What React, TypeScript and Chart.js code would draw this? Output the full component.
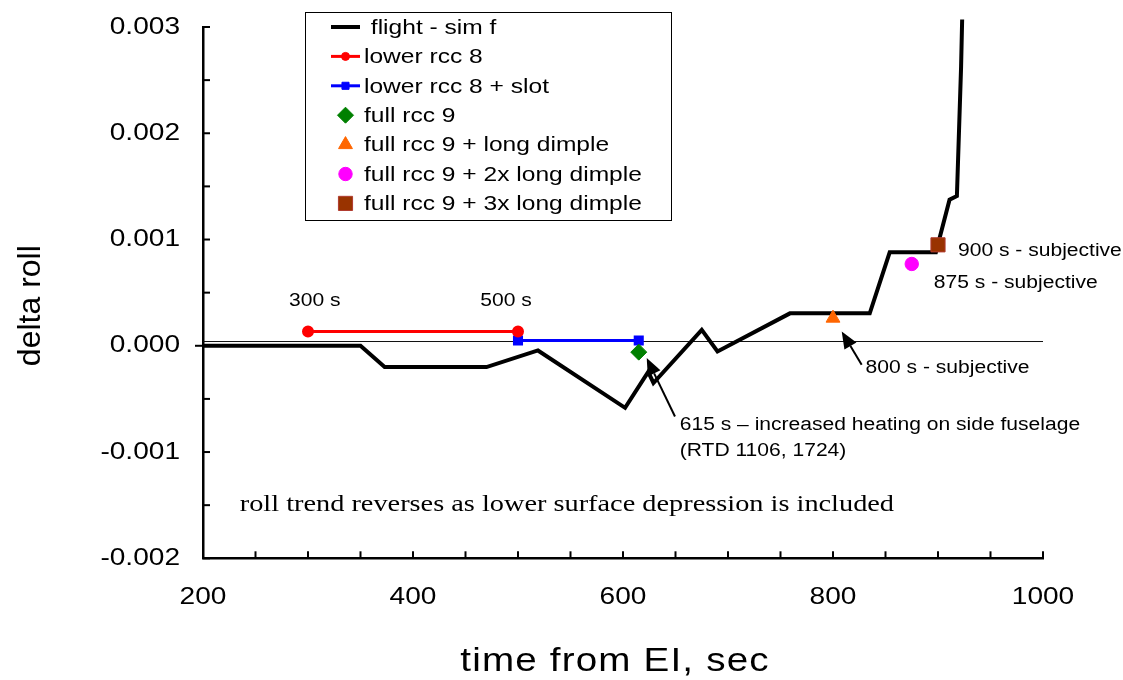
import React, { useEffect, useRef } from 'react';
import { Chart, registerables } from 'chart.js';

Chart.register(...registerables);

const SANS = "'Liberation Sans', Arial, Helvetica, sans-serif";
const SERIF = "'Liberation Serif', 'Times New Roman', serif";
const STRETCH = 1.17;

// axis ranges and tick steps
const xMin = 200;
const xMax = 1000;
const yMin = -0.002;
const yMax = 0.003;
const xTickStep = 50;
const xLabelStep = 200;
const yTickStep = 0.0005;
const yLabelStep = 0.001;
const xTitle = 'time from EI, sec';
const yTitle = 'delta roll';

// flight - sim f
const flightTime = [200, 350, 373, 470, 519, 602, 624, 629, 675, 690, 759, 835, 854, 898, 911, 918, 922, 923];
const flightRoll = [0, 0, -0.0002, -0.0002, -0.000044, -0.000584, -0.000245, -0.00035, 0.00015, -0.000054, 0.000305, 0.000305, 0.00088, 0.00088, 0.001375, 0.00141, 0.00263, 0.00307];

// lower rcc 8
const rcc8Time = [300, 500];
const rcc8Roll = [0.000135, 0.000135];

// lower rcc 8 + slot
const slotTime = [500, 615];
const slotRoll = [0.00005, 0.00005];

// full rcc 9 and dimple variants
const rcc9Time = [615];
const rcc9Roll = [-0.00006];
const dimple1Time = [800];
const dimple1Roll = [0.00026];
const dimple2Time = [875];
const dimple2Roll = [0.00077];
const dimple3Time = [900];
const dimple3Roll = [0.00095];

// thin reference line
const refTime = [200, 1000];
const refRoll = [0.00004, 0.00004];

// text notes (data coordinates, left aligned)
const noteTexts = [
  '300 s',
  '500 s',
  '615 s \u2013 increased heating on side fuselage',
  '(RTD 1106, 1724)',
  '800 s - subjective',
  '875 s - subjective',
  '900 s - subjective',
];
const noteTime = [282, 464, 654, 654, 831, 896, 919];
const noteRoll = [0.000424, 0.000424, -0.000744, -0.000989, -0.000207, 0.000593, 0.000895];

const serifNote = 'roll trend reverses as lower surface depression is included';
const serifNoteTime = 235;
const serifNoteRoll = -0.0015;

// arrows (tail -> tip)
const arrowTailTime = [649.5, 827.3];
const arrowTailRoll = [-0.000666, -0.000179];
const arrowTipTime = [622.6, 808.3];
const arrowTipRoll = [-0.000116, 0.000135];

const pts = (xs: number[], ys: number[]) => xs.map((x, i) => ({ x, y: ys[i] }));
const isMultiple = (v: number, step: number) => Math.abs(Math.round(v / step) * step - v) < step * 1e-6;

function stretchText(
  ctx: CanvasRenderingContext2D,
  text: string,
  x: number,
  y: number,
  font: string,
  align: CanvasTextAlign,
  sx = STRETCH,
  spacing = 0
) {
  ctx.save();
  ctx.font = font;
  (ctx as any).letterSpacing = `${spacing}px`;
  ctx.textBaseline = 'middle';
  ctx.textAlign = align;
  ctx.fillStyle = '#000';
  ctx.translate(x, y);
  ctx.scale(sx, 1);
  ctx.fillText(text, 0, 0);
  ctx.restore();
}

function drawMarker(ctx: CanvasRenderingContext2D, style: string, x: number, y: number, r: number, fill: string, stroke: string) {
  ctx.save();
  ctx.fillStyle = fill;
  ctx.strokeStyle = stroke;
  ctx.lineWidth = 1;
  ctx.beginPath();
  if (style === 'circle') {
    ctx.arc(x, y, r, 0, Math.PI * 2);
  } else if (style === 'rect') {
    const s = r * Math.SQRT1_2;
    ctx.rect(x - s, y - s, 2 * s, 2 * s);
  } else if (style === 'rectRot') {
    ctx.moveTo(x, y - r);
    ctx.lineTo(x + r, y);
    ctx.lineTo(x, y + r);
    ctx.lineTo(x - r, y);
    ctx.closePath();
  } else if (style === 'triangle') {
    const h = (r * Math.sqrt(3)) / 2;
    ctx.moveTo(x, y - r);
    ctx.lineTo(x + h, y + r / 2);
    ctx.lineTo(x - h, y + r / 2);
    ctx.closePath();
  }
  ctx.fill();
  ctx.stroke();
  ctx.restore();
}

function drawArrow(ctx: CanvasRenderingContext2D, x0: number, y0: number, x1: number, y1: number) {
  const ang = Math.atan2(y1 - y0, x1 - x0);
  const L = 17;
  const W = 7;
  const bx = x1 - L * Math.cos(ang);
  const by = y1 - L * Math.sin(ang);
  ctx.save();
  ctx.strokeStyle = '#000';
  ctx.fillStyle = '#000';
  ctx.lineWidth = 2;
  ctx.beginPath();
  ctx.moveTo(x0, y0);
  ctx.lineTo(bx, by);
  ctx.stroke();
  ctx.beginPath();
  ctx.moveTo(x1, y1);
  ctx.lineTo(bx + W * Math.sin(ang), by - W * Math.cos(ang));
  ctx.lineTo(bx - W * Math.sin(ang), by + W * Math.cos(ang));
  ctx.closePath();
  ctx.fill();
  ctx.restore();
}

const decorPlugin = {
  id: 'decor',
  afterDatasetsDraw(chart: any) {
    const ctx: CanvasRenderingContext2D = chart.ctx;
    const a = chart.chartArea;
    const xs = chart.scales.x;
    const ys = chart.scales.y;
    ctx.save();
    ctx.strokeStyle = '#000';
    ctx.lineWidth = 2;
    // inner tick marks + tick labels
    const tickFont = `24px ${SANS}`;
    xs.ticks.forEach((t: any) => {
      const px = xs.getPixelForValue(t.value);
      ctx.beginPath();
      ctx.moveTo(px, a.bottom);
      ctx.lineTo(px, a.bottom - 7);
      ctx.stroke();
      if (isMultiple(t.value, xLabelStep)) {
        stretchText(ctx, String(Math.round(t.value)), px, a.bottom + 39, tickFont, 'center');
      }
    });
    ys.ticks.forEach((t: any) => {
      const py = ys.getPixelForValue(t.value);
      ctx.beginPath();
      ctx.moveTo(a.left, py);
      ctx.lineTo(a.left + 7, py);
      ctx.stroke();
      if (isMultiple(t.value, yLabelStep)) {
        const r = Math.round(t.value / yLabelStep) * yLabelStep;
        const label = Math.abs(r) < 1e-12 ? '0.000' : r.toFixed(3);
        stretchText(ctx, label, a.left - 23, py, tickFont, 'right');
      }
    });
    const p0 = ys.getPixelForValue(0);
    ctx.beginPath();
    ctx.moveTo(a.left - 8, p0);
    ctx.lineTo(a.left, p0);
    ctx.stroke();

    // axis titles
    stretchText(ctx, xTitle, (a.left + a.right) / 2 - 8, a.bottom + 104, `33px ${SANS}`, 'center', STRETCH, 1);
    ctx.save();
    ctx.translate(a.left - 172, (a.top + a.bottom) / 2 + 13);
    ctx.rotate(-Math.PI / 2);
    stretchText(ctx, yTitle, 0, 0, `32px ${SANS}`, 'center', 1, 0);
    ctx.restore();

    // arrows
    arrowTailTime.forEach((t, i) => {
      drawArrow(
        ctx,
        xs.getPixelForValue(t),
        ys.getPixelForValue(arrowTailRoll[i]),
        xs.getPixelForValue(arrowTipTime[i]),
        ys.getPixelForValue(arrowTipRoll[i])
      );
    });

    // notes
    noteTexts.forEach((txt, i) => {
      stretchText(ctx, txt, xs.getPixelForValue(noteTime[i]), ys.getPixelForValue(noteRoll[i]), `18px ${SANS}`, 'left');
    });
    stretchText(ctx, serifNote, xs.getPixelForValue(serifNoteTime), ys.getPixelForValue(serifNoteRoll), `24px ${SERIF}`, 'left', 1.18);

    // legend
    const lx = a.left + 102;
    const ly = a.top - 15;
    const lw = 366;
    const lh = 208;
    ctx.fillStyle = '#fff';
    ctx.fillRect(lx, ly, lw, lh);
    ctx.strokeStyle = '#000';
    ctx.lineWidth = 1;
    ctx.strokeRect(lx + 0.5, ly + 0.5, lw, lh);
    const items = chart.data.datasets.filter((d: any) => !d.hideInLegend);
    items.forEach((d: any, i: number) => {
      const cy = ly + 15 + i * 29.4;
      const sx0 = lx + 26;
      const sx1 = lx + 55;
      if (d.showLine) {
        ctx.strokeStyle = d.borderColor;
        ctx.lineWidth = d.borderWidth;
        ctx.beginPath();
        ctx.moveTo(sx0, cy);
        ctx.lineTo(sx1, cy);
        ctx.stroke();
      }
      if (d.pointRadius > 0) {
        const r = d.legendRadius || d.pointRadius;
        drawMarker(ctx, d.pointStyle, (sx0 + sx1) / 2, cy, r, d.pointBackgroundColor, d.pointBorderColor);
      }
      stretchText(ctx, d.label, lx + 59, cy + 1, `21px ${SANS}`, 'left');
    });
    ctx.restore();
  },
};

export default function App() {
  const ref = useRef<HTMLCanvasElement | null>(null);
  useEffect(() => {
    document.body.style.margin = '0';
    if (!ref.current) return;
    Chart.defaults.font.family = SANS;
    Chart.defaults.color = '#000';
    const chart = new Chart(ref.current, {
      type: 'scatter',
      data: {
        datasets: [
          {
            label: ' flight - sim f',
            data: pts(flightTime, flightRoll),
            showLine: true,
            borderColor: '#000',
            borderWidth: 4,
            pointRadius: 0,
            clip: false,
            order: 10,
          } as any,
          {
            label: 'lower rcc 8',
            data: pts(rcc8Time, rcc8Roll),
            showLine: true,
            borderColor: '#ff0000',
            borderWidth: 3,
            pointStyle: 'circle',
            pointRadius: 4.5,
            legendRadius: 4,
            pointBackgroundColor: '#ff0000',
            pointBorderColor: '#ff0000',
            order: 1,
          },
          {
            label: 'lower rcc 8 + slot',
            data: pts(slotTime, slotRoll),
            showLine: true,
            borderColor: '#0000ff',
            borderWidth: 3,
            pointStyle: 'rect',
            pointRadius: 5,
            legendRadius: 5,
            pointBackgroundColor: '#0000ff',
            pointBorderColor: '#0000ff',
            order: 1,
          },
          {
            label: 'full rcc 9',
            data: pts(rcc9Time, rcc9Roll),
            showLine: false,
            pointStyle: 'rectRot',
            pointRadius: 8,
            pointBackgroundColor: '#008000',
            pointBorderColor: '#008000',
            order: 0,
          },
          {
            label: 'full rcc 9 + long dimple',
            data: pts(dimple1Time, dimple1Roll),
            showLine: false,
            pointStyle: 'triangle',
            pointRadius: 8,
            pointBackgroundColor: '#ff6600',
            pointBorderColor: '#ff6600',
            order: 0,
          },
          {
            label: 'full rcc 9 + 2x long dimple',
            data: pts(dimple2Time, dimple2Roll),
            showLine: false,
            pointStyle: 'circle',
            pointRadius: 6.7,
            pointBackgroundColor: '#ff00ff',
            pointBorderColor: '#ff00ff',
            order: 0,
          },
          {
            label: 'full rcc 9 + 3x long dimple',
            data: pts(dimple3Time, dimple3Roll),
            showLine: false,
            pointStyle: 'rect',
            pointRadius: 10,
            pointBackgroundColor: '#993300',
            pointBorderColor: '#b03a2e',
            order: 0,
          },
          {
            label: 'ref',
            data: pts(refTime, refRoll),
            showLine: true,
            borderColor: '#111',
            borderWidth: 1,
            pointRadius: 0,
            hideInLegend: true,
            order: 11,
          },
        ] as any,
      },
      options: {
        responsive: false,
        animation: false,
        devicePixelRatio: 1,
        layout: { padding: { top: 27, right: 80, left: 0, bottom: 0 } },
        plugins: { legend: { display: false }, tooltip: { enabled: false } },
        scales: {
          x: {
            type: 'linear',
            min: xMin,
            max: xMax,
            grid: { display: false, drawTicks: false },
            border: { display: true, color: '#000', width: 2.5 },
            ticks: { stepSize: xTickStep, autoSkip: false, display: false },
            title: { display: false },
            afterFit: (s: any) => {
              s.height = 121.7;
              s.paddingLeft = 0;
              s.paddingRight = 0;
            },
          },
          y: {
            type: 'linear',
            min: yMin,
            max: yMax,
            grid: { display: false, drawTicks: false },
            border: { display: true, color: '#000', width: 2.5 },
            ticks: { stepSize: yTickStep, autoSkip: false, display: false },
            title: { display: false },
            afterFit: (s: any) => {
              s.width = 203;
              s.paddingTop = 0;
              s.paddingBottom = 0;
            },
          },
        },
      },
      plugins: [decorPlugin],
    });
    return () => chart.destroy();
  }, []);
  return (
    <div style={{ width: 1123, height: 680, position: 'relative', background: '#fff' }}>
      <canvas ref={ref} width={1123} height={680} style={{ display: 'block' }} />
    </div>
  );
}
